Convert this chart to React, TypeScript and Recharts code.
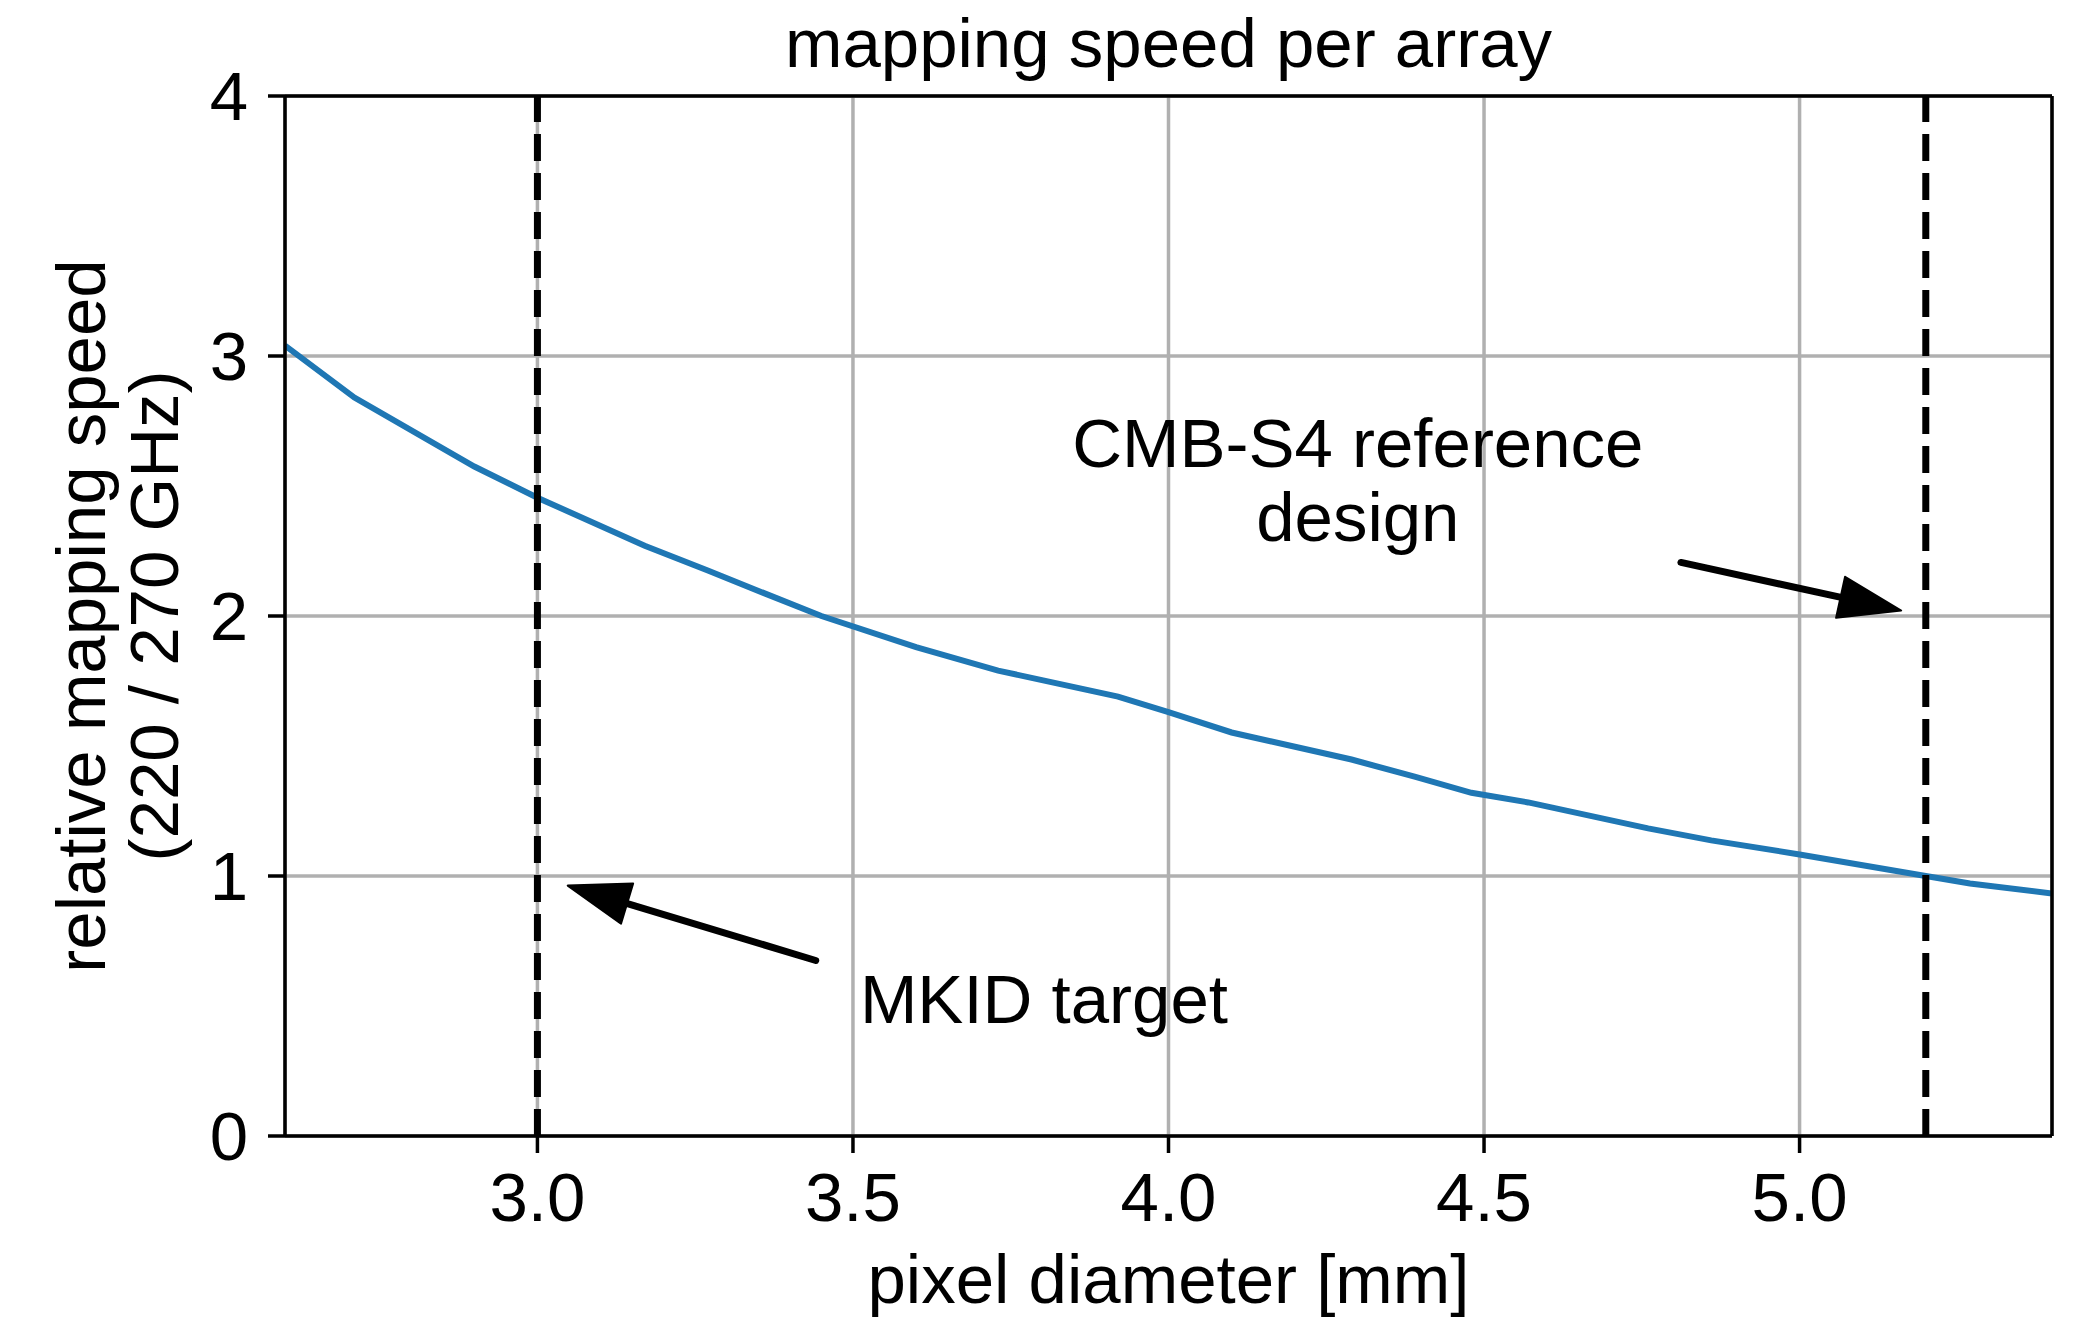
import React from 'react';
import {
  LineChart,
  Line,
  XAxis,
  YAxis,
  CartesianGrid,
  ReferenceLine,
  ReferenceDot,
  Label,
} from 'recharts';

const FONT = '"Liberation Sans", Arial, Helvetica, sans-serif';

// pixel diameter [mm] and the relative mapping speed
const pixelDiameter = [
  2.6, 2.71, 2.9, 3.0, 3.17, 3.27, 3.36, 3.45, 3.6, 3.73, 3.92, 4.0, 4.1, 4.29,
  4.39, 4.48, 4.57, 4.76, 4.86, 5.0, 5.2, 5.27, 5.4,
];
const mappingSpeed = [
  3.04, 2.84, 2.575, 2.455, 2.27, 2.175, 2.087, 2.0, 1.88, 1.79, 1.69, 1.63,
  1.552, 1.448, 1.382, 1.32, 1.283, 1.183, 1.137, 1.083, 1.0, 0.971, 0.933,
];

const xTicks = [3.0, 3.5, 4.0, 4.5, 5.0];
const yTicks = [0, 1, 2, 3, 4];
const markers = [3.0, 5.2]; // MKID target, CMB-S4 reference design

const data = pixelDiameter.map((d, i) => ({ d, speed: mappingSpeed[i] }));

function Arrow(props: any) {
  const { x1, y1, x2, y2 } = props;
  const dx = x2 - x1;
  const dy = y2 - y1;
  const len = Math.hypot(dx, dy);
  const ux = dx / len;
  const uy = dy / len;
  const headLen = 62;
  const halfW = 21;
  const bx = x2 - ux * headLen;
  const by = y2 - uy * headLen;
  const px = -uy;
  const py = ux;
  return (
    <g>
      <line
        x1={x1}
        y1={y1}
        x2={bx + ux * 4}
        y2={by + uy * 4}
        stroke="#000"
        strokeWidth={7}
        strokeLinecap="round"
      />
      <polygon
        points={`${x2},${y2} ${bx + px * halfW},${by + py * halfW} ${bx - px * halfW},${by - py * halfW}`}
        fill="#000"
        stroke="#000"
        strokeWidth={2}
        strokeLinejoin="round"
      />
    </g>
  );
}

const textStyle = { fontFamily: FONT, fontSize: 69, fill: '#000' };

export default function App() {
  if (typeof document !== 'undefined') document.body.style.margin = '0';
  return (
    <div style={{ position: 'absolute', left: 0, top: 0, width: 2080, height: 1317, background: '#fff' }}>
      <LineChart
        width={2080}
        height={1317}
        data={data}
        margin={{ top: 96, right: 28, bottom: 0, left: 0 }}
      >
        <CartesianGrid stroke="#b0b0b0" strokeWidth={3.5} />
        <XAxis
          dataKey="d"
          type="number"
          domain={[2.6, 5.4]}
          ticks={xTicks}
          interval={0}
          allowDataOverflow
          tickFormatter={(v: number) => v.toFixed(1)}
          height={181}
          tickSize={17}
          tickMargin={19}
          tick={textStyle}
          axisLine={{ stroke: '#000', strokeWidth: 3.5 }}
          tickLine={{ stroke: '#000', strokeWidth: 3.5 }}
        >
          <Label
            content={(p: any) => {
              const vb = p.viewBox;
              return (
                <g>
                  <text x={vb.x + vb.width / 2} y={1303} textAnchor="middle" style={textStyle}>
                    pixel diameter [mm]
                  </text>
                  <text x={vb.x + vb.width / 2} y={67} textAnchor="middle" style={textStyle}>
                    mapping speed per array
                  </text>
                </g>
              );
            }}
          />
        </XAxis>
        <YAxis
          type="number"
          domain={[0, 4]}
          ticks={yTicks}
          interval={0}
          width={285}
          tickSize={17}
          tickMargin={20}
          tick={textStyle}
          axisLine={{ stroke: '#000', strokeWidth: 3.5 }}
          tickLine={{ stroke: '#000', strokeWidth: 3.5 }}
        >
          <Label
            content={(p: any) => {
              const vb = p.viewBox;
              const cy = vb.y + vb.height / 2;
              return (
                <g>
                  <text x={105} y={cy} transform={`rotate(-90 105 ${cy})`} textAnchor="middle" style={textStyle}>
                    relative mapping speed
                  </text>
                  <text x={178} y={cy} transform={`rotate(-90 178 ${cy})`} textAnchor="middle" style={textStyle}>
                    (220 / 270 GHz)
                  </text>
                </g>
              );
            }}
          />
        </YAxis>
        <Line
          dataKey="speed"
          type="linear"
          stroke="#1f77b4"
          strokeWidth={6}
          dot={false}
          activeDot={false}
          isAnimationActive={false}
        />
        {markers.map((m) => (
          <ReferenceLine key={m} x={m} stroke="#000" strokeWidth={7} strokeDasharray="27 12" />
        ))}
        <ReferenceLine y={4} stroke="#000" strokeWidth={3.5} />
        <ReferenceLine x={5.4} stroke="#000" strokeWidth={3.5} />
        <ReferenceLine
          segment={[{ x: 3.441, y: 0.675 }, { x: 3.048, y: 0.963 }]}
          shape={(p: any) => <Arrow {...p} />}
        />
        <ReferenceLine
          segment={[{ x: 4.812, y: 2.206 }, { x: 5.161, y: 2.021 }]}
          shape={(p: any) => <Arrow {...p} />}
        />
        <ReferenceDot
          x={3.511}
          y={0.433}
          r={1}
          shape={(p: any) => (
            <text x={p.cx} y={p.cy} textAnchor="start" style={textStyle}>
              MKID target
            </text>
          )}
        />
        <ReferenceDot
          x={4.3}
          y={2.575}
          r={1}
          shape={(p: any) => (
            <text x={p.cx} y={p.cy} textAnchor="middle" style={textStyle}>
              <tspan x={p.cx}>CMB-S4 reference</tspan>
              <tspan x={p.cx} dy={74}>design</tspan>
            </text>
          )}
        />
      </LineChart>
    </div>
  );
}
